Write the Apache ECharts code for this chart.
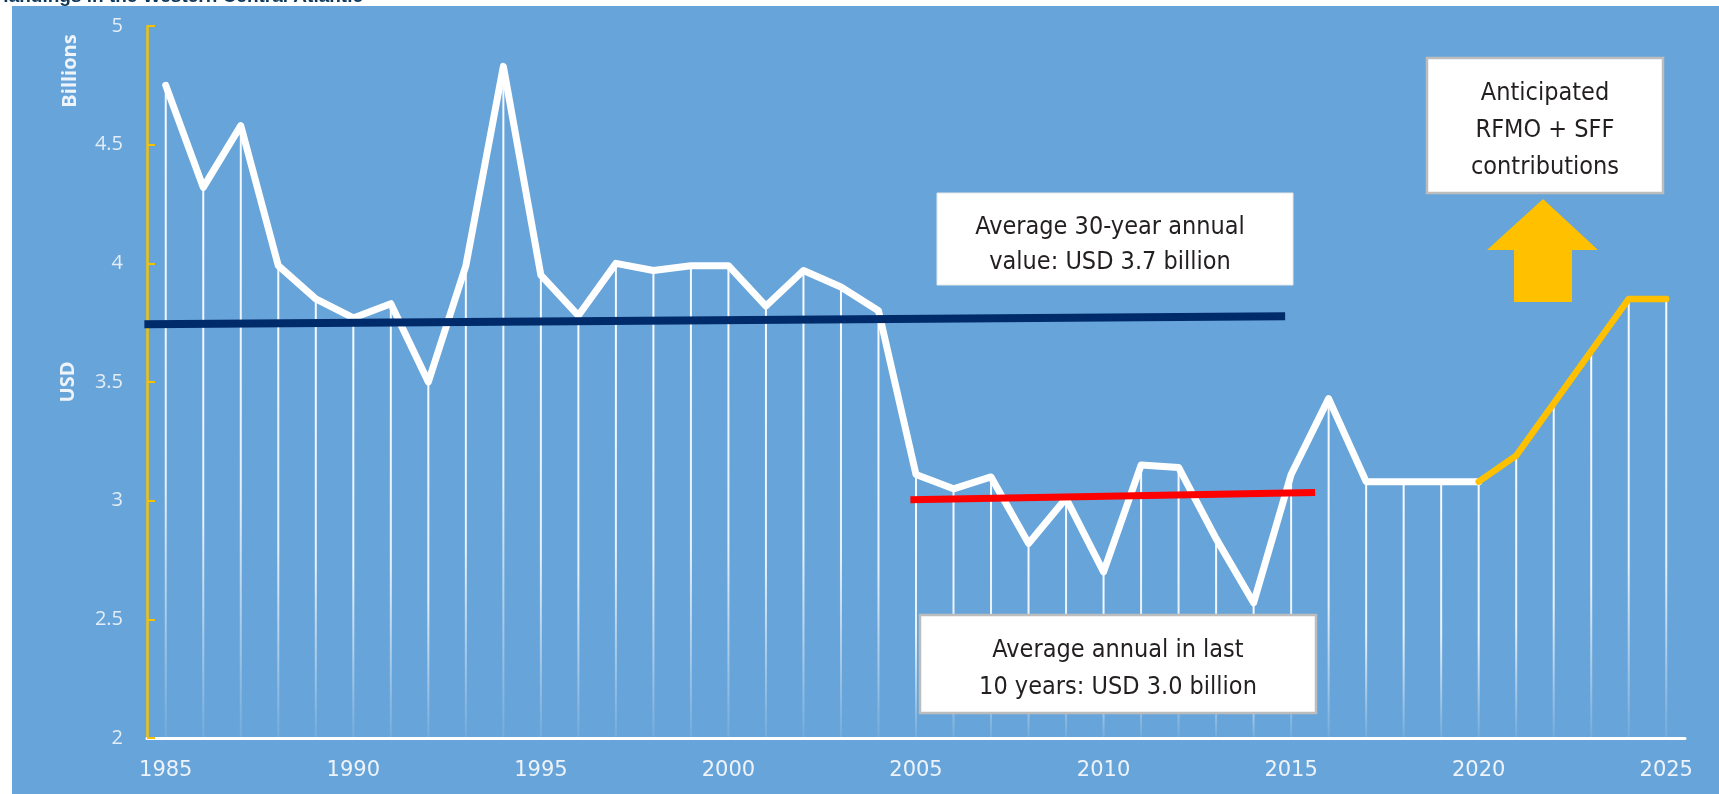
<!DOCTYPE html>
<html>
<head>
<meta charset="utf-8">
<script src="https://cdn.jsdelivr.net/npm/echarts@6/dist/echarts.min.js"></script>
<style>
  html, body { margin: 0; padding: 0; background: #fff; }
  #chart { width: 1719px; height: 794px; }
</style>
</head>
<body>
<div id="chart"></div>
<script>
// years on the category axis
var years = [];
for (var y = 1985; y <= 2025; y++) years.push(String(y));

// USD billions, 1985 - 2020 (white line)
var historic = [4.75, 4.32, 4.58, 3.99, 3.85, 3.77, 3.83, 3.50, 3.99, 4.83,
                3.95, 3.78, 4.00, 3.97, 3.99, 3.99, 3.82, 3.97, 3.90, 3.80,
                3.11, 3.05, 3.10, 2.82, 3.01, 2.70, 3.15, 3.14, 2.84, 2.57,
                3.11, 3.43, 3.08, 3.08, 3.08, 3.08];
// 2020 - 2025 (yellow line, anticipated)
var projected = [3.08, 3.19, 3.41, 3.63, 3.85, 3.85];

// average lines as [year, value] end points
var avg30Line = [[1984.43, 3.743], [2014.84, 3.777]];
var avg10Line = [[2004.85, 3.004], [2015.64, 3.034]];

var yTicks = { min: 2, max: 5, step: 0.5 };

var allValues = historic.concat(projected.slice(1));
var whiteData = years.map(function (d, i) { return i < historic.length ? historic[i] : null; });
var yellowData = years.map(function (d, i) {
    var j = i - (historic.length - 1);
    return j >= 0 ? projected[j] : null;
});

var chart = echarts.init(document.getElementById('chart'), null, { renderer: 'canvas' });

var boxFont = '"DejaVu Sans Condensed", "Liberation Sans Narrow", sans-serif';

chart.setOption({
    backgroundColor: '#ffffff',
    animation: false,
    grid: { left: 147, right: 34, top: 26, bottom: 56, containLabel: false },
    xAxis: [{
        type: 'category',
        data: years,
        boundaryGap: true,
        axisLine: { lineStyle: { color: '#ffffff', width: 3 } },
        axisTick: { show: false },
        axisLabel: {
            interval: 4,
            color: '#eef3f9',
            fontSize: 21,
            fontFamily: '"DejaVu Sans", sans-serif',
            margin: 22
        },
        splitLine: { show: false }
    }, {
        type: 'value',
        min: 1984.5,
        max: 2025.5,
        show: false
    }],
    yAxis: {
        type: 'value',
        min: yTicks.min,
        max: yTicks.max,
        interval: yTicks.step,
        name: 'USD',
        nameLocation: 'middle',
        nameRotate: 90,
        nameGap: 69,
        nameTextStyle: { color: '#eef4fa', fontSize: 20, fontWeight: 'bold', fontFamily: '"Open Sans", sans-serif' },
        axisLine: { show: true, lineStyle: { color: '#f5c200', width: 2.5 } },
        axisTick: { show: true, inside: true, length: 8, lineStyle: { color: '#f5c200', width: 2 } },
        axisLabel: {
            color: '#e3edf7',
            fontSize: 20,
            fontFamily: '"Open Sans", sans-serif',
            margin: 24
        },
        splitLine: { show: false }
    },
    series: [{
        type: 'custom',
        name: 'drops',
        xAxisIndex: 0,
        z: 1,
        data: allValues.map(function (v, i) { return [i, v]; }),
        renderItem: function (params, api) {
            var top = api.coord([api.value(0), api.value(1)]);
            var bottom = api.coord([api.value(0), yTicks.min]);
            return {
                type: 'rect',
                shape: { x: top[0] - 1, y: top[1], width: 2, height: bottom[1] - top[1] },
                style: {
                    fill: new echarts.graphic.LinearGradient(0, 0, 0, 1, [
                        { offset: 0, color: 'rgba(255,255,255,0.95)' },
                        { offset: 0.6, color: 'rgba(255,255,255,0.85)' },
                        { offset: 1, color: 'rgba(255,255,255,0.08)' }
                    ])
                }
            };
        }
    }, {
        type: 'line',
        name: 'historic',
        xAxisIndex: 0,
        z: 3,
        data: whiteData,
        symbol: 'none',
        lineStyle: { color: '#ffffff', width: 7, cap: 'round', join: 'round' }
    }, {
        type: 'line',
        name: 'projected',
        xAxisIndex: 0,
        z: 3,
        data: yellowData,
        symbol: 'none',
        lineStyle: { color: '#ffc000', width: 6.5, cap: 'round', join: 'round' }
    }, {
        type: 'line',
        name: 'avg30',
        xAxisIndex: 1,
        z: 4,
        clip: false,
        data: avg30Line,
        symbol: 'none',
        lineStyle: { color: '#002b6b', width: 8 }
    }, {
        type: 'line',
        name: 'avg10',
        xAxisIndex: 1,
        z: 4,
        clip: false,
        data: avg10Line,
        symbol: 'none',
        lineStyle: { color: '#ff0000', width: 7 }
    }],
    graphic: [
        { type: 'rect', z: -100, shape: { x: 12, y: 6, width: 1707, height: 788 }, style: { fill: '#67a4d9' } },
        {
            type: 'text', z: -101, x: 363, y: 6,
            style: {
                text: 'landings in the Western Central Atlantic', align: 'right', verticalAlign: 'bottom',
                fill: '#0d3658', fontSize: 19, fontWeight: 'bold', fontFamily: '"Liberation Sans", sans-serif'
            }
        },
        {
            type: 'text', x: 70, y: 71, rotation: Math.PI / 2,
            style: {
                text: 'Billions', align: 'center', verticalAlign: 'middle',
                fill: '#eef4fa', fontSize: 20, fontWeight: 'bold', fontFamily: '"Open Sans", sans-serif'
            }
        },
        // box: 30-year average
        { type: 'rect', z: 100, shape: { x: 937, y: 193, width: 356, height: 92 }, style: { fill: '#ffffff', stroke: '#e6e6e6', lineWidth: 1 } },
        {
            type: 'text', z: 101, x: 1110, y: 245,
            style: {
                text: 'Average 30-year annual\nvalue: USD 3.7 billion', align: 'center', verticalAlign: 'middle',
                fill: '#231f20', fontSize: 25, lineHeight: 35, fontFamily: boxFont
            }
        },
        // box: last 10 years
        { type: 'rect', z: 100, shape: { x: 920, y: 615, width: 396, height: 98 }, style: { fill: '#ffffff', stroke: '#bdbdbd', lineWidth: 2.5 } },
        {
            type: 'text', z: 101, x: 1118, y: 669,
            style: {
                text: 'Average annual in last\n10 years: USD 3.0 billion', align: 'center', verticalAlign: 'middle',
                fill: '#231f20', fontSize: 25, lineHeight: 37, fontFamily: boxFont
            }
        },
        // box: anticipated contributions
        { type: 'rect', z: 100, shape: { x: 1427, y: 58, width: 236, height: 135 }, style: { fill: '#ffffff', stroke: '#bdbdbd', lineWidth: 2.5 } },
        {
            type: 'text', z: 101, x: 1545, y: 130,
            style: {
                text: 'Anticipated\nRFMO + SFF\ncontributions', align: 'center', verticalAlign: 'middle',
                fill: '#231f20', fontSize: 25, lineHeight: 37, fontFamily: boxFont
            }
        },
        // up arrow
        {
            type: 'polygon', z: 100,
            shape: { points: [[1543, 199], [1598, 250], [1572, 250], [1572, 302], [1514, 302], [1514, 250], [1487, 250]] },
            style: { fill: '#ffc000' }
        }
    ]
});
</script>
</body>
</html>
